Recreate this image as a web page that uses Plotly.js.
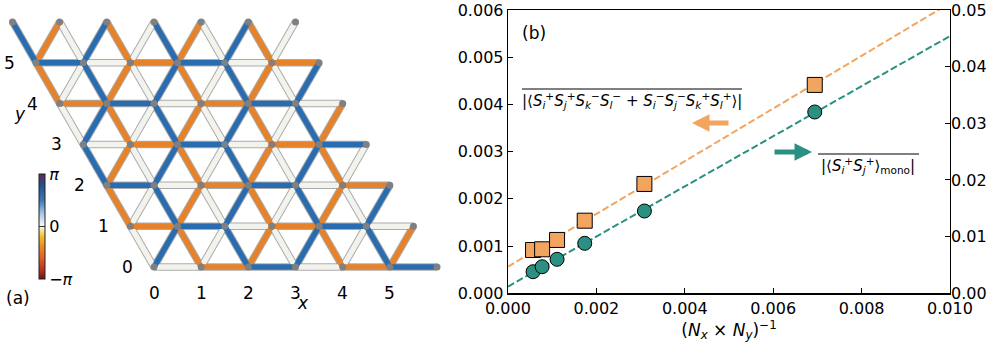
<!DOCTYPE html>
<html>
<head>
<meta charset="utf-8">
<script src="https://cdn.plot.ly/plotly-3.0.1.min.js"></script>
<style>html,body{margin:0;padding:0;background:#fff}</style>
</head>
<body>
<div id="chart" style="width:996px;height:349px"></div>
<script>
// ---- panel (a): bond phases on the 6x6 triangular lattice ----
// one string per lattice row y = 0..5, one letter per site x = 0..5
// W = 0, O = -2pi/3, B = +2pi/3
const bonds_h  = ['WOBWOB', 'OBWOBW', 'BWOBWO', 'WOBWOB', 'OBWOBW', 'BWOBWO']; // (x,y)-(x+1,y)
const bonds_ul = ['WOBWOB', 'OBWOBW', 'BWOBWO', 'WOBWOB', 'OBWOBW', 'BWOBWO']; // (x,y)-(x,y+1)
const bonds_ur = ['BWOBWO', 'WOBWOB', 'OBWOBW', 'BWOBWO', 'WOBWOB', 'OBWOBW']; // (x,y)-(x+1,y+1)
const lattice_ticks = ['0', '1', '2', '3', '4', '5'];

// ---- panel (b): finite size scaling ----
const inv_size = [0.000567, 0.000772, 0.00111, 0.001736, 0.003086, 0.00694];
const ring_exchange = [0.000917, 0.000932, 0.00113, 0.001538, 0.002316, 0.004413]; // left axis
const mono_pair = [0.00381, 0.00469, 0.0060, 0.00882, 0.01452, 0.0320];          // right axis
const fit_x = [0, 0.010];
const ring_fit = [0.000565, 0.006145];
const mono_fit = [0.00118, 0.0454];

const phase_of = {W: 0, O: -2 * Math.PI / 3, B: 2 * Math.PI / 3};
const bond_color = {W: '#f3f3ee', O: '#e6822a', B: '#2a6cb0'};
const c_orange = '#f2a55f';
const c_teal = '#2a9081';

// lattice coords -> plane
const s3 = Math.sqrt(3) / 2;
const lx = (x, y) => x - 0.5 * y;
const ly = (x, y) => y * s3;

// paper helpers (layout is 996x349 with no margins)
const W = 996, H = 349;
const px = v => v / W;
const py = v => 1 - v / H;

const segs = {W: {x: [], y: []}, O: {x: [], y: []}, B: {x: [], y: []}};
const all_seg = {x: [], y: []};
const mids = {x: [], y: [], c: []};

function add_bond(x0, y0, x1, y1, key) {
	const s = segs[key];
	s.x.push(lx(x0, y0), lx(x1, y1), null);
	s.y.push(ly(x0, y0), ly(x1, y1), null);
	all_seg.x.push(lx(x0, y0), lx(x1, y1), null);
	all_seg.y.push(ly(x0, y0), ly(x1, y1), null);
	mids.x.push((lx(x0, y0) + lx(x1, y1)) / 2);
	mids.y.push((ly(x0, y0) + ly(x1, y1)) / 2);
	mids.c.push(phase_of[key]);
}

const n = bonds_h.length;
for (let y = 0; y < n; y++) {
	for (let x = 0; x < n; x++) {
		add_bond(x, y, x + 1, y, bonds_h[y][x]);
		add_bond(x, y, x, y + 1, bonds_ul[y][x]);
		add_bond(x, y, x + 1, y + 1, bonds_ur[y][x]);
	}
}

const sites = {x: [], y: []};
for (let y = 0; y <= n; y++)
	for (let x = 0; x <= n; x++) {
		sites.x.push(lx(x, y));
		sites.y.push(ly(x, y));
	}

const traces = [];

traces.push({
	x: all_seg.x, y: all_seg.y, xaxis: 'x3', yaxis: 'y3',
	mode: 'lines', line: {color: 'rgba(135,135,135,0.7)', width: 7.5},
	hoverinfo: 'skip'
});
for (const key of ['W', 'O', 'B']) {
	traces.push({
		x: segs[key].x, y: segs[key].y, xaxis: 'x3', yaxis: 'y3',
		mode: 'lines', line: {color: bond_color[key], width: 5.5},
		hoverinfo: 'skip'
	});
}
traces.push({
	x: sites.x, y: sites.y, xaxis: 'x3', yaxis: 'y3',
	mode: 'markers', marker: {color: '#808080', size: 7},
	hoverinfo: 'skip'
});

// invisible bond midpoints carry the phase colour bar
traces.push({
	x: mids.x, y: mids.y, xaxis: 'x3', yaxis: 'y3',
	mode: 'markers',
	marker: {
		size: 2, opacity: 0, color: mids.c,
		cmin: -Math.PI, cmax: Math.PI,
		colorscale: [
			[0, '#6a1313'], [0.08, '#b3301f'], [0.2, '#df5f28'], [0.3, '#e8862a'],
			[0.4, '#f2bd25'], [0.47, '#fbe6a0'], [0.5, '#f7f7f7'], [0.53, '#e8eff8'],
			[0.63, '#a3c2e1'], [0.75, '#3a77b7'], [0.9, '#234f8e'], [1, '#6a2458']
		],
		showscale: true,
		colorbar: {
			x: px(39), xanchor: 'left', y: py(226.5), yanchor: 'middle',
			len: 105, lenmode: 'pixels', thickness: 6, thicknessmode: 'pixels',
			outlinewidth: 1, outlinecolor: '#222',
			tickvals: [-Math.PI, 0, Math.PI], ticktext: ['−<i>π</i>', '0', '<i>π</i>'],
			ticks: 'inside', ticklen: 6, tickcolor: '#333',
			tickfont: {size: 16, family: 'DejaVu Sans'},
			xpad: 0, ypad: 0
		}
	},
	hoverinfo: 'skip'
});

// panel (b)
traces.push({
	x: fit_x, y: ring_fit, mode: 'lines',
	line: {color: c_orange, width: 2, dash: '7px,3px'}, hoverinfo: 'skip'
});
traces.push({
	x: fit_x, y: mono_fit, yaxis: 'y2', mode: 'lines',
	line: {color: c_teal, width: 2, dash: '7px,3px'}, hoverinfo: 'skip'
});
traces.push({
	x: inv_size, y: ring_exchange, mode: 'markers',
	marker: {symbol: 'square', size: 15, color: c_orange, line: {color: '#000', width: 1}}
});
traces.push({
	x: inv_size, y: mono_pair, yaxis: 'y2', mode: 'markers',
	marker: {symbol: 'circle', size: 14, color: c_teal, line: {color: '#000', width: 1}}
});

const annotations = [];
const lab_font = {family: 'DejaVu Sans', size: 17, color: '#000'};
function note(x, y, text, font, refs) {
	annotations.push(Object.assign({
		xref: 'paper', yref: 'paper', x: x, y: y, text: text,
		xanchor: 'center', yanchor: 'middle', showarrow: false, font: font
	}, refs || {}));
}
lattice_ticks.forEach((t, i) => {
	note(lx(i, 0), -0.55, t, lab_font, {xref: 'x3', yref: 'y3'});
	note(lx(0, i) - 0.57, ly(0, i), t, lab_font, {xref: 'x3', yref: 'y3'});
});
note(px(303), py(303), '<i>x</i>', lab_font);
note(px(20), py(114), '<i>y</i>', lab_font);
note(px(18), py(298), '(a)', lab_font);
note(px(534), py(33), '(b)', lab_font);

const S = (a, b) => `<i>S</i><sub><i>${a}</i></sub><sup>${b}</sup>`;
const label_font = {family: 'DejaVu Sans', size: 15, color: '#000'};
note(px(632), py(101),
	'|⟨' + S('i', '+') + S('j', '+') + S('k', '−') + S('l', '−') + ' + ' +
	S('i', '−') + S('j', '−') + S('k', '+') + S('l', '+') + '⟩|', label_font);
note(px(868), py(166), '|⟨' + S('i', '+') + S('j', '+') + '⟩<sub>mono</sub>|', label_font);

// arrows pointing to the matching axis
annotations.push({xref: 'paper', yref: 'paper', x: px(692), y: py(123), ax: 38, ay: 0,
	text: '', showarrow: true, arrowhead: 2, arrowsize: 0.7, arrowwidth: 5,
	arrowcolor: c_orange, standoff: 0});
annotations.push({xref: 'paper', yref: 'paper', x: px(812), y: py(152), ax: -39, ay: 0,
	text: '', showarrow: true, arrowhead: 2, arrowsize: 0.7, arrowwidth: 5,
	arrowcolor: c_teal, standoff: 0});

const shapes = [
	{type: 'line', xref: 'paper', yref: 'paper', x0: px(522), x1: px(742), y0: py(89), y1: py(89),
		line: {color: '#000', width: 1}},
	{type: 'line', xref: 'paper', yref: 'paper', x0: px(818), x1: px(919), y0: py(154), y1: py(154),
		line: {color: '#000', width: 1}}
];

const tick_font = {family: 'DejaVu Sans', size: 16, color: '#000'};
const unit = 47.17;
const layout = {
	width: W, height: H,
	margin: {l: 0, r: 0, t: 0, b: 0},
	paper_bgcolor: '#fff', plot_bgcolor: 'rgba(0,0,0,0)',
	showlegend: false,
	font: {family: 'DejaVu Sans', color: '#000'},
	xaxis: {
		domain: [px(508), px(950)], range: [0, 0.010], anchor: 'y',
		tickvals: [0, 0.002, 0.004, 0.006, 0.008, 0.010], tickformat: '.3f',
		ticks: 'inside', ticklen: 5, tickcolor: '#000', tickfont: tick_font,
		showline: true, mirror: true, linecolor: '#000', linewidth: 1.3,
		showgrid: false, zeroline: false,
		title: {text: '(<i>N</i><sub><i>x</i></sub> × <i>N</i><sub><i>y</i></sub>)<sup>−1</sup>',
			font: {family: 'DejaVu Sans', size: 17}, standoff: 6}
	},
	yaxis: {
		domain: [py(293.3), py(10)], range: [0, 0.006], anchor: 'x',
		dtick: 0.001, tickformat: '.3f',
		ticks: 'inside', ticklen: 5, tickcolor: '#000', tickfont: tick_font,
		showline: true, mirror: true, linecolor: '#000', linewidth: 1.3,
		showgrid: false, zeroline: false
	},
	yaxis2: {
		overlaying: 'y', side: 'right', anchor: 'x', range: [0, 0.05],
		dtick: 0.01, tickformat: '.2f',
		ticks: 'inside', ticklen: 5, tickcolor: '#000', tickfont: tick_font,
		showgrid: false, zeroline: false
	},
	xaxis3: {
		domain: [0, 0.46], range: [-154 / unit, (0.46 * W - 154) / unit],
		visible: false, anchor: 'y3'
	},
	yaxis3: {
		domain: [0, 1], range: [(267 - H) / unit, 267 / unit],
		visible: false, anchor: 'x3'
	},
	shapes: shapes,
	annotations: annotations
};

Plotly.newPlot('chart', traces, layout, {displayModeBar: false, staticPlot: true});
</script>
</body>
</html>
